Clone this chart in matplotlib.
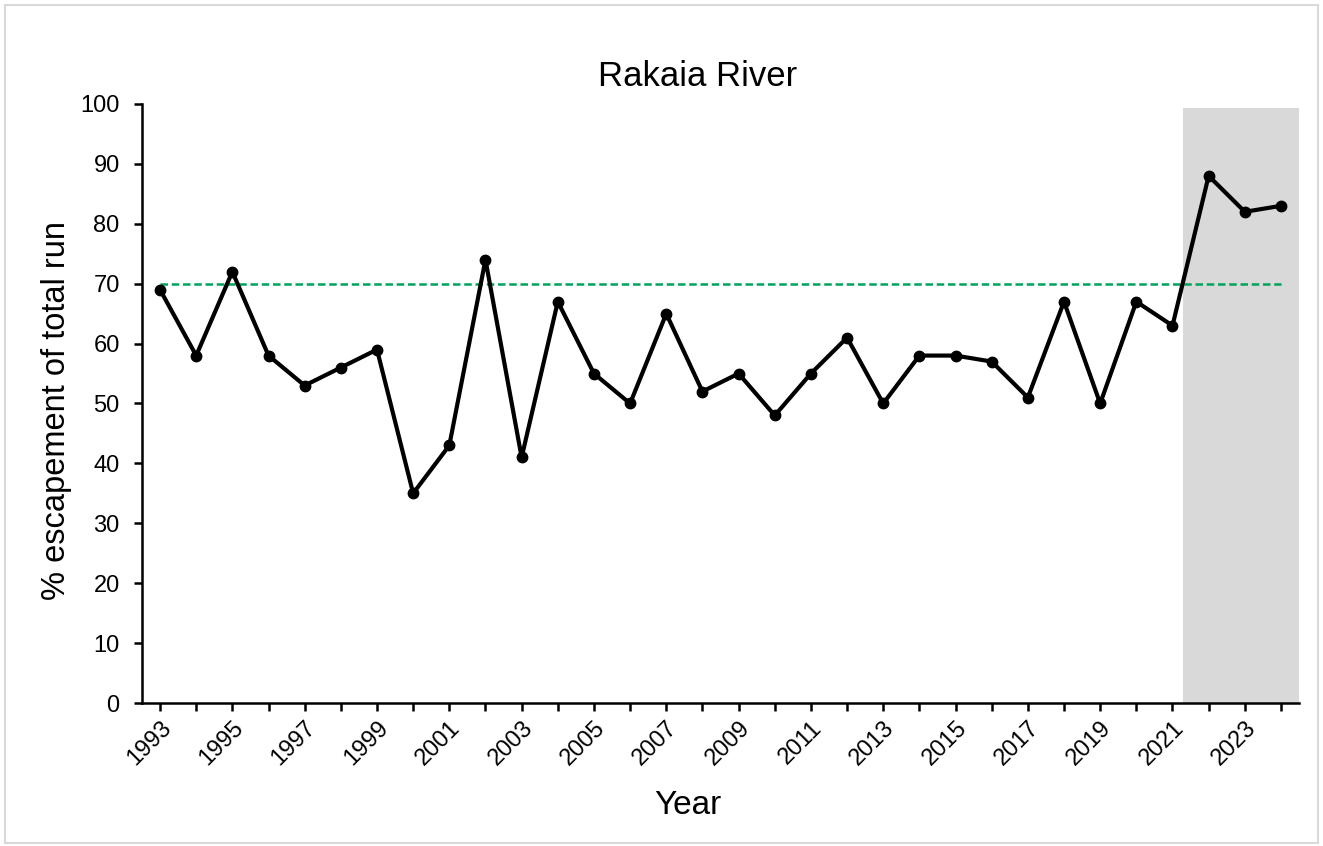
import numpy as np
import matplotlib
matplotlib.use("Agg")
import matplotlib.pyplot as plt
from matplotlib.patches import Rectangle

years = list(range(1993, 2025))
escapement = [69, 58, 72, 58, 53, 56, 59, 35, 43, 74, 41, 67, 55, 50, 65, 52,
              55, 48, 55, 61, 50, 58, 58, 57, 51, 67, 50, 67, 63, 88, 82, 83]
target = 70
shade_start = 2021.3

plt.rcParams['font.family'] = ['Liberation Sans', 'DejaVu Sans']

fig = plt.figure(figsize=(13.23, 8.46), dpi=100)
fig.patches.append(Rectangle((0.004, 0.004), 0.992, 0.99, transform=fig.transFigure,
                             fill=False, edgecolor='#d9d9d9', linewidth=1.5))
ax = fig.add_axes([0.1073, 0.169, 0.8746, 0.7081])

ax.axvspan(shade_start, years[-1] + 0.5, ymin=0, ymax=0.993, color='#d9d9d9', lw=0, zorder=0)
ax.plot([years[0], years[-1]], [target, target], color='#00a35a', lw=1.8,
        ls=(0, (3, 1.5)), zorder=2)
ax.plot(years, escapement, color='black', lw=3, marker='o', markersize=7.5, zorder=3)

ax.set_xlim(years[0] - 0.5, years[-1] + 0.5)
ax.set_ylim(0, 100)
ax.set_yticks(range(0, 101, 10))
ax.set_xticks(years)
ax.set_xticklabels([str(y) if (y - 1993) % 2 == 0 else '' for y in years],
                   rotation=45, ha='right', rotation_mode='anchor')

for s in ['top', 'right']:
    ax.spines[s].set_visible(False)
for s in ['left', 'bottom']:
    ax.spines[s].set_linewidth(1.8)
ax.tick_params(axis='both', direction='out', length=6, width=1.8, labelsize=17)
ax.tick_params(axis='x', pad=4)
ax.tick_params(axis='y', pad=10)

fig.text(698 / 1323, 1 - 76 / 846, 'Rakaia River', fontsize=25, ha='center', va='center')
fig.text(688 / 1323, 1 - 805 / 846, 'Year', fontsize=24, ha='center', va='center')
fig.text(57 / 1323, 1 - 410 / 846, '% escapement of total run', fontsize=23.5,
         ha='center', va='center', rotation=90)

fig.savefig('out.png', dpi=100)
